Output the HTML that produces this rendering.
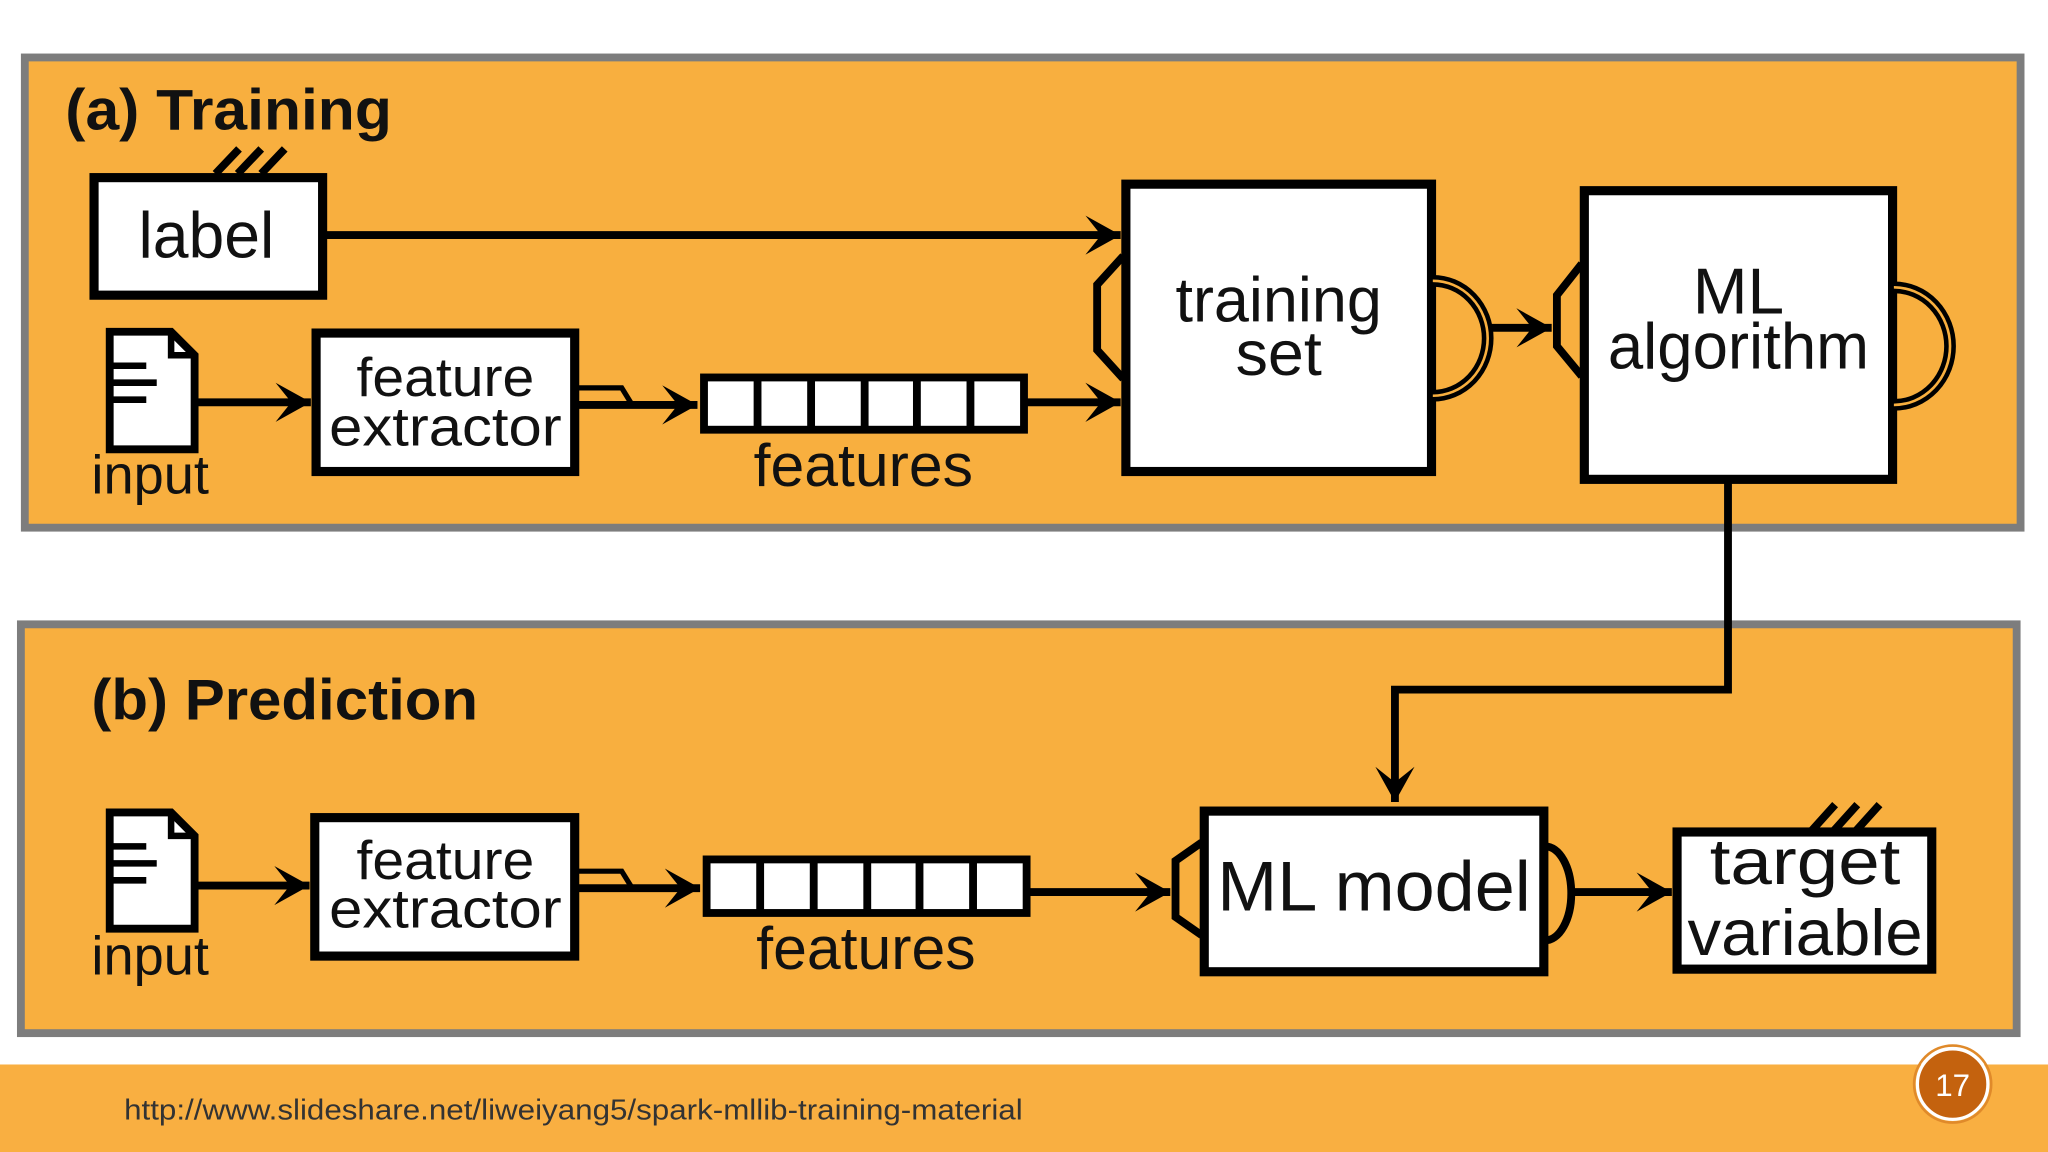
<!DOCTYPE html>
<html><head><meta charset="utf-8"><style>
html,body{margin:0;padding:0;background:#fff;width:2048px;height:1152px;overflow:hidden}
svg{display:block}
text{font-family:"Liberation Sans",sans-serif;fill:#111}
</style></head><body>
<svg width="2048" height="1152" viewBox="0 0 1568 882" xmlns="http://www.w3.org/2000/svg">
<defs>
<marker id="ah" viewBox="0 0 10 10" refX="9" refY="5" markerWidth="5" markerHeight="5" orient="auto" markerUnits="strokeWidth">
<path d="M0,0 L9,5 L0,10 L4,5 Z" fill="#000"/>
</marker>
</defs>
<rect x="19" y="44" width="1528" height="360" fill="#F8AF3F" stroke="#7d7d7d" stroke-width="6"/>
<rect x="16" y="478" width="1528" height="313" fill="#F8AF3F" stroke="#7d7d7d" stroke-width="6"/>
<rect x="0" y="815" width="1568" height="67" fill="#F9AF41"/>
<text x="95" y="857" font-size="22" fill="#333" style="fill:#333" textLength="688" lengthAdjust="spacingAndGlyphs">http://www.slideshare.net/liweiyang5/spark-mllib-training-material</text>
<circle cx="1495" cy="830" r="27" fill="#C4620E" stroke="#fff" stroke-width="2.5"/>
<circle cx="1495" cy="830" r="29.5" fill="none" stroke="#E08A2A" stroke-width="2"/>
<text x="1495" y="839" text-anchor="middle" font-size="24" style="fill:#fff">17</text>

<g lengthAdjust="spacingAndGlyphs">
<text x="50" y="99" font-size="44" font-weight="bold" textLength="250" lengthAdjust="spacingAndGlyphs">(a)  Training</text>
<text x="70" y="551" font-size="44" font-weight="bold" textLength="296" lengthAdjust="spacingAndGlyphs">(b)  Prediction</text>
</g>

<g stroke="#000" stroke-width="7" fill="#fff">
<rect x="72" y="136" width="175" height="90"/>
<rect x="242" y="255" width="198" height="106"/>
<rect x="862" y="141" width="234" height="220"/>
<rect x="1213" y="146" width="236" height="221"/>
<rect x="241" y="626" width="199" height="106"/>
<rect x="922" y="621" width="260" height="123"/>
<rect x="1284" y="637" width="195" height="105"/>
</g>

<g stroke="#000" stroke-width="6" fill="#fff">
<rect x="539" y="289" width="245" height="40"/>
<rect x="541" y="658" width="245" height="41"/>
</g>
<g stroke="#000" stroke-width="6">
<line x1="580" y1="289" x2="580" y2="329"/><line x1="621" y1="289" x2="621" y2="329"/><line x1="662" y1="289" x2="662" y2="329"/><line x1="702" y1="289" x2="702" y2="329"/><line x1="743" y1="289" x2="743" y2="329"/>
<line x1="582" y1="658" x2="582" y2="699"/><line x1="623" y1="658" x2="623" y2="699"/><line x1="664" y1="658" x2="664" y2="699"/><line x1="704" y1="658" x2="704" y2="699"/><line x1="745" y1="658" x2="745" y2="699"/>
</g>

<g stroke="#000" stroke-width="6" fill="#fff">
<path d="M84,254 L131,254 L149,272 L149,344 L84,344 Z"/>
<path d="M84,622 L131,622 L149,640 L149,711 L84,711 Z"/>
</g>
<g stroke="#000" stroke-width="5" fill="none">
<path d="M131,254 L131,272 L149,272"/>
<path d="M131,622 L131,640 L149,640"/>
<path d="M86,280 H112 M86,293 H120 M86,306 H112"/>
<path d="M86,648 H112 M86,661 H120 M86,674 H112"/>
</g>

<g stroke="#000" stroke-width="6">
<path d="M165,133 L183,114 M182,133 L200,114 M200,133 L218,114"/>
<path d="M1387,636 L1405,616 M1404,636 L1422,616 M1421,636 L1439,616"/>
</g>

<g stroke="#000" stroke-width="6" fill="none" marker-end="url(#ah)">
<line x1="247" y1="180" x2="858" y2="180"/>
<line x1="150" y1="308" x2="238" y2="308"/>
<line x1="441" y1="310" x2="534" y2="310"/>
<line x1="785" y1="308" x2="858" y2="308"/>
<line x1="1142" y1="251" x2="1188" y2="251"/>
<path d="M1323,368 V528 H1068 V614"/>
<line x1="150" y1="678" x2="237" y2="678"/>
<line x1="441" y1="680" x2="536" y2="680"/>
<line x1="787" y1="683" x2="896" y2="683"/>
<line x1="1205" y1="683" x2="1280" y2="683"/>
</g>
<g stroke="#000" stroke-width="4" fill="none">
<path d="M441,297 H476 L484,310"/>
<path d="M441,667 H476 L484,680"/>
</g>
<g stroke="#000" stroke-width="6" fill="none">
<path d="M860,196 L840,218 L840,268 L860,290"/>
<path d="M1211,202 L1192,226 L1192,265 L1211,288"/>
<path d="M920,645 L900,659 L900,702 L920,716"/>
</g>
<g stroke="#000" fill="none">
<path d="M1097,215 A42,44 0 0 1 1097,303" stroke-width="9"/>
<path d="M1097,215 A42,44 0 0 1 1097,303" stroke-width="2" stroke="#F8AF3F"/>
<path d="M1450,220 A43,45 0 0 1 1450,310" stroke-width="9"/>
<path d="M1450,220 A43,45 0 0 1 1450,310" stroke-width="2" stroke="#F8AF3F"/>
<path d="M1183,648 A20,36 0 0 1 1183,720" stroke-width="6"/>
</g>

<text x="158" y="197" font-size="50" text-anchor="middle" textLength="104" lengthAdjust="spacingAndGlyphs">label</text>
<text x="115" y="378" font-size="42" text-anchor="middle" textLength="90" lengthAdjust="spacingAndGlyphs">input</text>
<text x="115" y="746" font-size="42" text-anchor="middle" textLength="90" lengthAdjust="spacingAndGlyphs">input</text>
<text x="341" y="303" font-size="42" text-anchor="middle" textLength="136" lengthAdjust="spacingAndGlyphs">feature</text>
<text x="341" y="341" font-size="42" text-anchor="middle" textLength="178" lengthAdjust="spacingAndGlyphs">extractor</text>
<text x="341" y="673" font-size="42" text-anchor="middle" textLength="136" lengthAdjust="spacingAndGlyphs">feature</text>
<text x="341" y="710" font-size="42" text-anchor="middle" textLength="178" lengthAdjust="spacingAndGlyphs">extractor</text>
<text x="661" y="372" font-size="46" text-anchor="middle" textLength="168" lengthAdjust="spacingAndGlyphs">features</text>
<text x="663" y="742" font-size="46" text-anchor="middle" textLength="168" lengthAdjust="spacingAndGlyphs">features</text>
<text x="979" y="246" font-size="48" text-anchor="middle" textLength="158" lengthAdjust="spacingAndGlyphs">training</text>
<text x="979" y="287" font-size="48" text-anchor="middle" textLength="66" lengthAdjust="spacingAndGlyphs">set</text>
<text x="1331" y="240" font-size="50" text-anchor="middle" textLength="70" lengthAdjust="spacingAndGlyphs">ML</text>
<text x="1331" y="282" font-size="50" text-anchor="middle" textLength="200" lengthAdjust="spacingAndGlyphs">algorithm</text>
<text x="1052" y="697" font-size="54" text-anchor="middle" textLength="240" lengthAdjust="spacingAndGlyphs">ML  model</text>
<text x="1382" y="677" font-size="50" text-anchor="middle" textLength="146" lengthAdjust="spacingAndGlyphs">target</text>
<text x="1382" y="731" font-size="50" text-anchor="middle" textLength="180" lengthAdjust="spacingAndGlyphs">variable</text>
</svg>
</body></html>
